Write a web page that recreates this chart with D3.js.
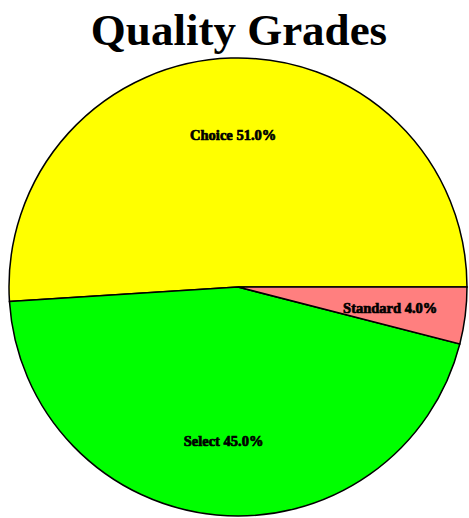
<!DOCTYPE html>
<html>
<head>
<meta charset="utf-8">
<script src="https://cdn.jsdelivr.net/npm/d3@7"></script>
<style>
  body { margin: 0; background: #fff; }
  svg { display: block; }
</style>
</head>
<body>
<div id="chart"></div>
<script>
var grades = ["Choice", "Select", "Standard"];
var shares = [51.0, 45.0, 4.0];
var colors = ["#ffff00", "#00ff00", "#ff7f7f"];

var W = 469, H = 518;
var cx = 238, cy = 287, R = 229;

var svg = d3.select("#chart").append("svg")
    .attr("width", W).attr("height", H);

svg.append("text")
    .attr("x", 239).attr("y", 45)
    .attr("text-anchor", "middle")
    .style("font-family", "'Liberation Serif', 'Times New Roman', serif")
    .style("font-size", "45px").style("font-weight", "bold")
    .text("Quality Grades");

var data = grades.map(function(g, i){ return {grade: g, value: shares[i]}; });

// start at 3 o'clock, run counter-clockwise
var pie = d3.pie().sort(null)
    .startAngle(Math.PI / 2).endAngle(Math.PI / 2 - 2 * Math.PI)
    .value(function(d){ return d.value; });

var arc = d3.arc().innerRadius(0).outerRadius(R);
var labelArc = d3.arc().innerRadius(R * 0.67).outerRadius(R * 0.67);

var color = d3.scaleOrdinal().domain(grades).range(colors);

var g = svg.append("g").attr("transform", "translate(" + cx + "," + cy + ")");

g.selectAll("path").data(pie(data)).enter().append("path")
    .attr("d", arc)
    .attr("fill", function(d){ return color(d.data.grade); })
    .attr("stroke", "#000").attr("stroke-width", 1.5);

g.selectAll("text").data(pie(data)).enter().append("text")
    .attr("transform", function(d){ return "translate(" + labelArc.centroid(d) + ")"; })
    .attr("text-anchor", "middle")
    .attr("dy", "0.45em")
    .style("font-family", "'Liberation Serif', 'Times New Roman', serif")
    .style("font-size", "14.5px").style("font-weight", "bold")
    .style("stroke", "#000").style("stroke-width", "0.7px")
    .text(function(d){ return d.data.grade + " " + d3.format(".1f")(d.data.value) + "%"; });
</script>
</body>
</html>
